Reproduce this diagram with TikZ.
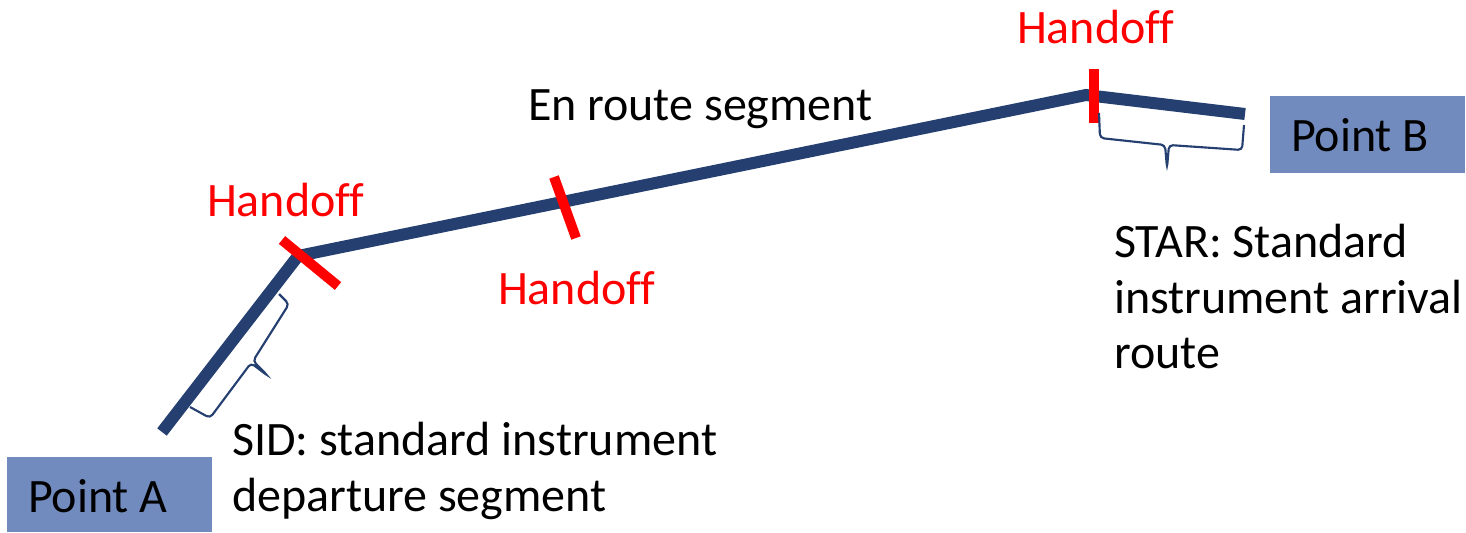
\documentclass[tikz,border=0pt]{standalone}
\usepackage{fontspec}
\setmainfont{Carlito}[Ligatures=NoCommon]
\definecolor{route}{RGB}{36,63,112}
\definecolor{boxfill}{RGB}{114,139,191}
\definecolor{hred}{RGB}{255,0,0}
\begin{document}
\begin{tikzpicture}[x=0.75pt,y=-0.75pt,
  lbl/.style={inner sep=0pt,outer sep=0pt,anchor=base west,font=\fontsize{36}{43}\selectfont},
  redlbl/.style={lbl,text=hred},
  routeline/.style={draw=route,line width=9pt},
  handmark/.style={draw=hred,line width=7.5pt},
  bracestyle/.style={draw=route,line width=1.6pt,rounded corners=3pt},
  ptbox/.style={fill=boxfill,draw=none}]
\useasboundingbox (0,0) rectangle (1466,532);
% boxes
\fill[boxfill] (7,457) rectangle (212,532);
\fill[boxfill] (1270,96) rectangle (1465,173);
\node[lbl] (ptA) at (28,512) {Point A};
\node[lbl] (ptB) at (1291,151) {Point B};
% route
\coordinate (p0) at (162,432);
\coordinate (p1) at (298,256);
\coordinate (p2) at (1086,95);
\coordinate (p3) at (1245,114);
\draw[routeline] (p0) -- (p1) -- (p2) -- (p3);
% handoff marks
\coordinate (h1a) at (282,240); \coordinate (h1b) at (338,286);
\coordinate (h2a) at (554,177); \coordinate (h2b) at (576,238);
\coordinate (h3a) at (1094,69); \coordinate (h3b) at (1094,123);
\draw[handmark] (h1a) -- (h1b);
\draw[handmark] (h2a) -- (h2b);
\draw[handmark] (h3a) -- (h3b);
% braces
\draw[bracestyle] (190,407) -- (210,418) -- (251,363) -- (268,376) -- (253,361) -- (289,304) -- (279,294);
\draw[bracestyle] (1099,113) -- (1100,138) -- (1165,145) -- (1167,168) -- (1169,145) -- (1242,150) -- (1244,125);
% labels
\node[redlbl] (hoTop) at (1017,43) {Handoff};
\node[redlbl] (hoLeft) at (207,216) {Handoff};
\node[redlbl] (hoMid) at (498,304) {Handoff};
\node[lbl] (enroute) at (528,120) {En route segment};
\node[lbl] (star1) at (1114,257) {STAR: Standard};
\node[lbl] (star2) at (1114,313) {instrument arrival};
\node[lbl] (star3) at (1114,368) {route};
\node[lbl] (sid1) at (232,455) {SID: standard instrument};
\node[lbl] (sid2) at (232,511) {departure segment};
\end{tikzpicture}
\end{document}
